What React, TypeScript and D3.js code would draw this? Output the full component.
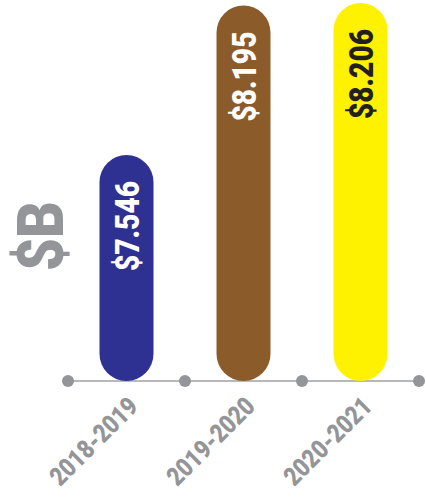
import { useEffect, useRef } from "react"
import * as d3 from "d3"

const categories = ["2018-2019", "2019-2020", "2020-2021"]
const values = [7.546, 8.195, 8.206]
const valueLabels = ["$7.546", "$8.195", "$8.206"]
const barColors = ["#2e3192", "#8c5b2a", "#fff200"]
const labelColors = ["#ffffff", "#ffffff", "#231f20"]

const FONT = "Roboto, 'Liberation Sans', Arial, sans-serif"

export default function App() {
  const svgRef = useRef<SVGSVGElement>(null)

  useEffect(() => {
    if (!svgRef.current) return
    const svg = d3.select(svgRef.current)
    svg.selectAll("*").remove()

    const width = 426
    const height = 499
    const baseY = 381

    svg.attr("width", width).attr("height", height)

    // truncated value axis, as in the original graphic
    const y = d3.scaleLinear().domain([6.565, 8.219]).range([baseY, 0])
    const x = d3.scaleBand<string>().domain(categories).range([68, 419]).padding(0)
    const barW = 54

    // "$B" unit label
    svg.append("text")
      .attr("transform", `translate(63,236) rotate(-90)`)
      .attr("text-anchor", "middle")
      .attr("font-family", FONT)
      .attr("font-weight", 900)
      .attr("font-size", 64)
      .attr("fill", "#939598")
      .attr("textLength", 70)
      .attr("lengthAdjust", "spacingAndGlyphs")
      .text("$B")

    // baseline
    svg.append("line")
      .attr("x1", 68)
      .attr("x2", 419)
      .attr("y1", baseY)
      .attr("y2", baseY)
      .attr("stroke", "#b7b8ba")
      .attr("stroke-width", 2)

    const ticks = [...categories.map((c) => x(c)!), 419]
    svg.selectAll("circle.tick")
      .data(ticks)
      .join("circle")
      .attr("class", "tick")
      .attr("cx", (d) => d)
      .attr("cy", baseY)
      .attr("r", 6)
      .attr("fill", "#939598")

    categories.forEach((c, i) => {
      const cx = x(c)! + x.bandwidth() / 2
      const top = y(values[i])

      svg.append("rect")
        .attr("x", cx - barW / 2)
        .attr("y", top)
        .attr("width", barW)
        .attr("height", baseY - top)
        .attr("rx", barW / 2)
        .attr("ry", barW / 2)
        .attr("fill", barColors[i])

      svg.append("text")
        .attr("transform", `translate(${cx + 12},${top + 26}) rotate(-90)`)
        .attr("text-anchor", "end")
        .attr("font-family", FONT)
        .attr("font-weight", 900)
        .attr("font-size", 34)
        .attr("fill", labelColors[i])
        .attr("textLength", 90)
        .attr("lengthAdjust", "spacingAndGlyphs")
        .text(valueLabels[i])

      svg.append("text")
        .attr("transform", `translate(${cx + 13},${baseY + 27}) rotate(-45)`)
        .attr("text-anchor", "end")
        .attr("font-family", FONT)
        .attr("font-weight", 900)
        .attr("font-size", 26)
        .attr("fill", "#939598")
        .attr("textLength", 112)
        .attr("lengthAdjust", "spacingAndGlyphs")
        .text(c)
    })
  }, [])

  return (
    <div style={{ position: "absolute", left: 0, top: 0 }}>
      <svg ref={svgRef} style={{ display: "block" }} />
    </div>
  )
}
